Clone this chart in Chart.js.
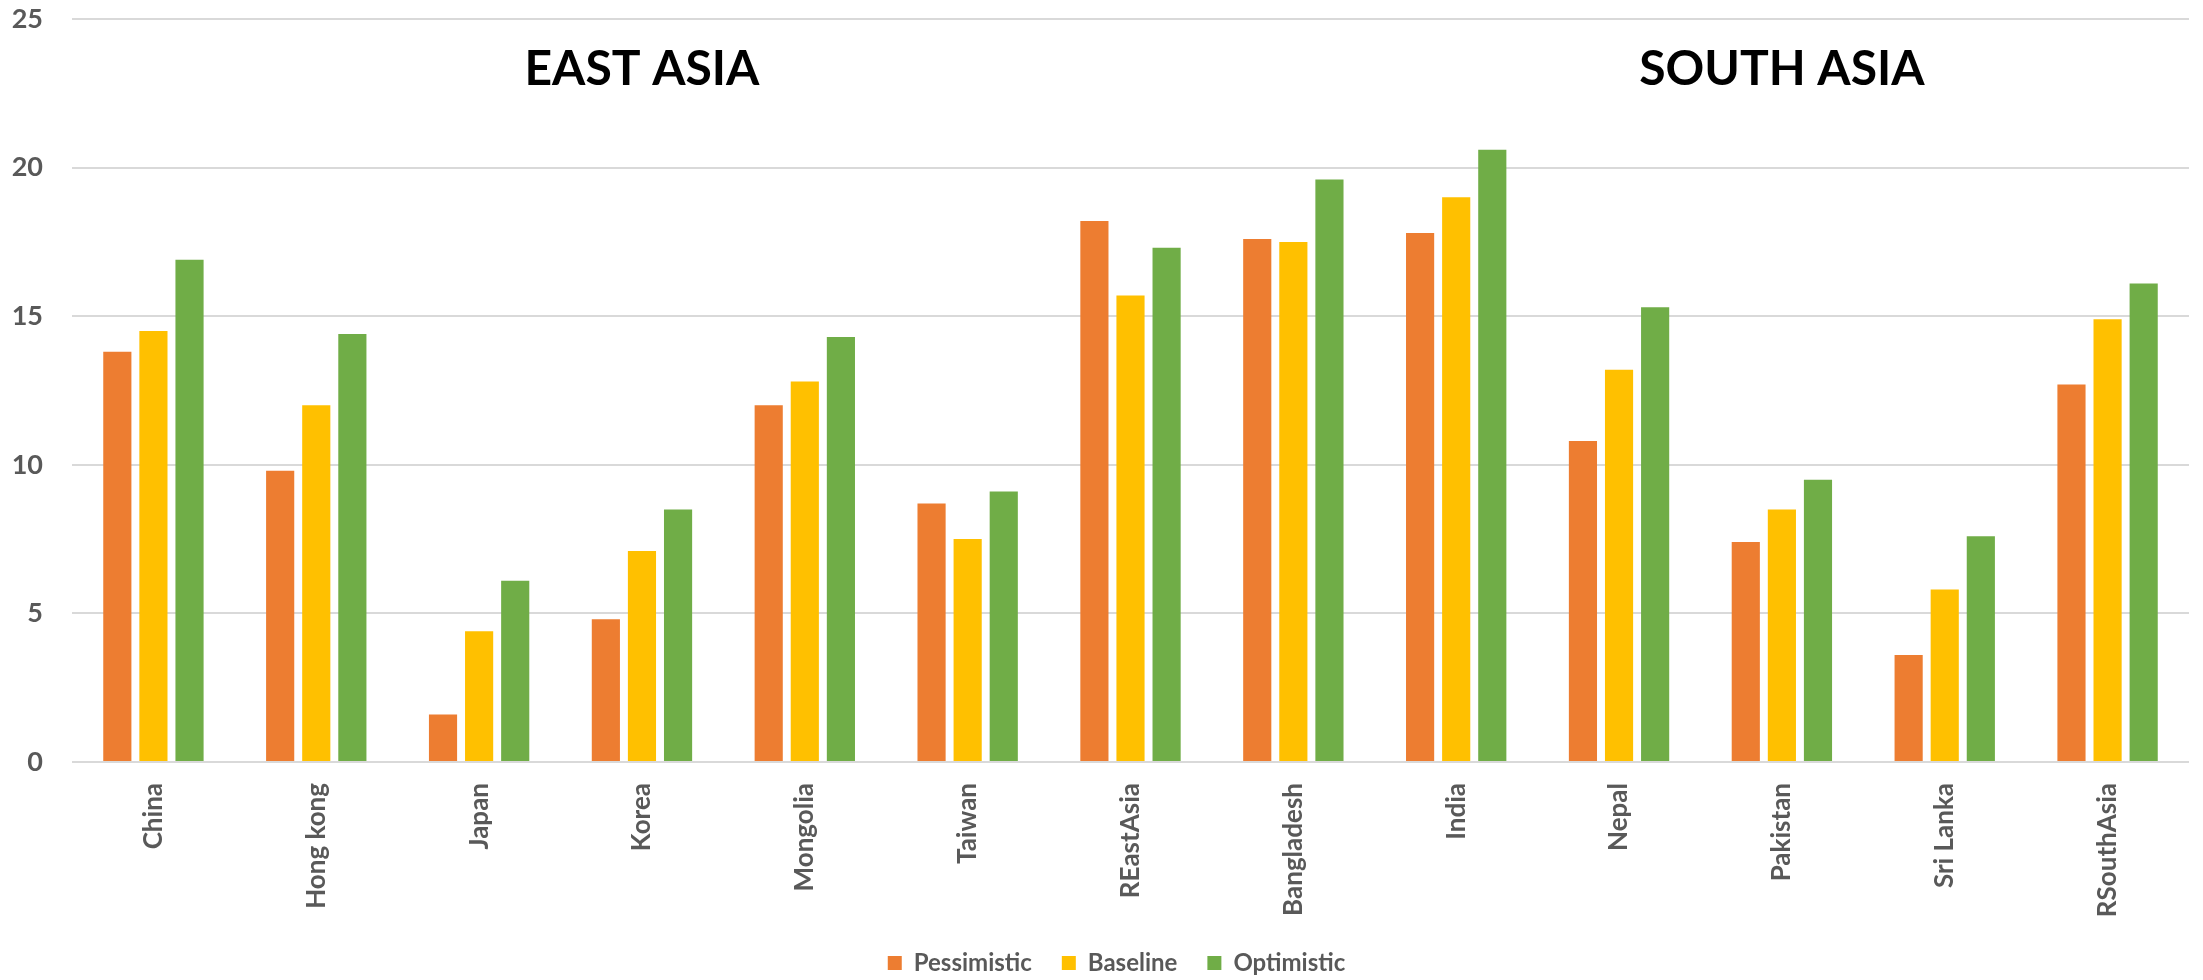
<!DOCTYPE html>
<html>
<head>
<meta charset="utf-8">
<title>East and South Asia scenarios</title>
<script src="https://cdn.jsdelivr.net/npm/chart.js@4.4.1/dist/chart.umd.min.js"></script>
<style>
    html, body { margin: 0; padding: 0; background: #ffffff; }
    #wrap { width: 2203px; height: 980px; }
</style>
</head>
<body>
<div id="wrap"><canvas id="scenarioChart"></canvas></div>
<script>
// --- data ---
const countries = ['China', 'Hong kong', 'Japan', 'Korea', 'Mongolia', 'Taiwan', 'REastAsia',
    'Bangladesh', 'India', 'Nepal', 'Pakistan', 'Sri Lanka', 'RSouthAsia'];
const pessimistic = [13.8, 9.8, 1.6, 4.8, 12.0, 8.7, 18.2, 17.6, 17.8, 10.8, 7.4, 3.6, 12.7];
const baseline    = [14.5, 12.0, 4.4, 7.1, 12.8, 7.5, 15.7, 17.5, 19.0, 13.2, 8.5, 5.8, 14.9];
const optimistic  = [16.9, 14.4, 6.1, 8.5, 14.3, 9.1, 17.3, 19.6, 20.6, 15.3, 9.5, 7.6, 16.1];
const regionNames = ['EAST ASIA', 'SOUTH ASIA'];

const GRAY = '#595959';

// draws the two region headings inside the plot
const regionTitles = {
    id: 'regionTitles',
    afterDatasetsDraw(chart, args, opts) {
        const { ctx, scales: { x, y } } = chart;
        ctx.save();
        ctx.fillStyle = '#000000';
        ctx.font = 'bold 48px Lato';
        ctx.textAlign = 'center';
        ctx.textBaseline = 'middle';
        regionNames.forEach((name, i) => {
            ctx.fillText(name, x.getPixelForValue(opts.at[i]), y.getPixelForValue(opts.level));
        });
        ctx.restore();
    }
};

// nudges the legend so it sits centred under the plot area rather than the canvas
const legendShift = {
    id: 'legendShift',
    afterLayout(chart, args, opts) {
        if (!chart.legend) return;
        chart.legend.left += opts.dx;
        chart.legend.right += opts.dx;
    }
};

const ctx = document.getElementById('scenarioChart').getContext('2d');

new Chart(ctx, {
    type: 'bar',
    data: {
        labels: countries,
        datasets: [
            { label: 'Pessimistic', data: pessimistic, backgroundColor: '#ED7D31' },
            { label: 'Baseline', data: baseline, backgroundColor: '#FFC000' },
            { label: 'Optimistic', data: optimistic, backgroundColor: '#70AD47' }
        ]
    },
    options: {
        responsive: true,
        maintainAspectRatio: false,
        animation: false,
        layout: { padding: { top: 19, right: 14, bottom: -5, left: 0 } },
        datasets: {
            bar: { categoryPercentage: 0.665, barPercentage: 0.78 }
        },
        plugins: {
            legend: {
                position: 'bottom',
                labels: {
                    color: GRAY,
                    boxWidth: 14,
                    boxHeight: 14,
                    padding: 30,
                    font: { family: 'Lato', size: 24, weight: 'bold' }
                }
            },
            tooltip: { enabled: false },
            regionTitles: { at: [3, 10], level: 23.3 },
            legendShift: { dx: 22 }
        },
        scales: {
            x: {
                afterFit(scale) { scale.height = 159; },
                grid: { display: false, drawTicks: false },
                border: { display: false },
                ticks: {
                    color: GRAY,
                    minRotation: 90,
                    maxRotation: 90,
                    padding: 21,
                    autoSkip: false,
                    font: { family: 'Lato', size: 26, weight: 'bold' }
                }
            },
            y: {
                min: 0,
                max: 25,
                afterFit(scale) {
                    scale.width = 72;
                    scale.paddingTop = 0;
                    scale.paddingBottom = 0;
                },
                grid: { color: '#D9D9D9', lineWidth: 2, drawTicks: false },
                border: { display: false },
                ticks: {
                    stepSize: 5,
                    color: GRAY,
                    padding: 29,
                    font: { family: 'Lato', size: 27, weight: 'bold' }
                }
            }
        }
    },
    plugins: [regionTitles, legendShift]
});
</script>
</body>
</html>
